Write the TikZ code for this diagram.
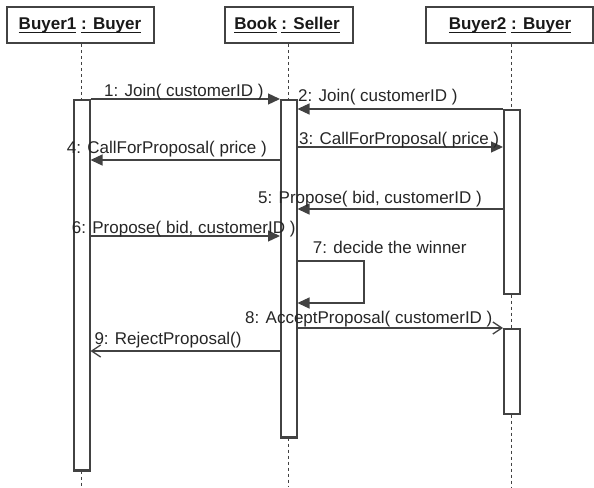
\documentclass[tikz,border=0pt]{standalone}
\usepackage{fontspec}
\setmainfont{Liberation Sans}
\usetikzlibrary{arrows.meta}
\definecolor{ink}{HTML}{424242}
\newcommand\ulbox[1]{\setbox0\hbox{#1}\rlap{\rule[-3.6pt]{\wd0}{1.4pt}}\box0\relax}
\tikzset{
  head/.style={draw=ink, line width=1.6pt, fill=white, minimum height=36pt, inner sep=0pt},
  headtext/.style={font=\fontsize{17}{20}\selectfont\bfseries, text=black!90, inner sep=0pt, anchor=base},
  bar/.style={draw=ink, line width=1.5pt, fill=white, minimum width=16pt, inner sep=0pt, anchor=north west},
  barfoot/.style={draw=ink, line width=2.8pt},
  life/.style={draw=ink, line width=1.3pt, dash pattern=on 3.5pt off 2.5pt},
  msg/.style={draw=ink, line width=1.3pt, -{Triangle[length=12pt,width=11pt]}},
  reply/.style={draw=ink, line width=1.3pt, -{Straight Barb[length=9pt,width=12pt]}},
  lbl/.style={font=\fontsize{17}{19}\selectfont, text=black!85, inner sep=0pt, anchor=base west},
}
\begin{document}
\begin{tikzpicture}[x=1pt, y=-1pt]
\path[use as bounding box] (0,0) rectangle (594,487);
\coordinate (bottom) at (0,487);

% object heads
\node[head, minimum width=147pt] (h1) at (80.5,25) {};
\node[head, minimum width=128pt] (hs) at (289,25) {};
\node[head, minimum width=167pt] (h2) at (509.5,25) {};
\node[headtext] (t1) at (80,29.5) {\ulbox{Buyer1} \ulbox{: Buyer}};
\node[headtext] (ts) at (287,29.5) {\ulbox{Book} \ulbox{: Seller}};
\node[headtext] (t2) at (510,29.5) {\ulbox{Buyer2} \ulbox{: Buyer}};

% activation bars
\node[bar, minimum height=370pt] (b1) at (73,99) {};
\node[bar, minimum height=337pt] (s) at (280,99) {};
\node[bar, minimum height=184pt] (b2a) at (503,109) {};
\node[bar, minimum height=85pt] (b2b) at (503,328) {};
\draw[barfoot] (b1.south west) -- (b1.south east);
\draw[barfoot] (s.south west) -- (s.south east);

% lifelines
\draw[life] (b1.north |- h1.south) -- (b1.north);
\draw[life] (b1.south) -- (b1.south |- bottom);
\draw[life] (s.north |- hs.south) -- (s.north);
\draw[life] (s.south) -- (s.south |- bottom);
\draw[life] (b2a.north |- h2.south) -- (b2a.north);
\draw[life] (b2a.south) -- (b2b.north);
\draw[life] (b2b.south) -- (b2b.south |- bottom);

% message rows
\coordinate (y1) at (0,99);
\coordinate (y2) at (0,109);
\coordinate (y3) at (0,147);
\coordinate (y4) at (0,160);
\coordinate (y5) at (0,209);
\coordinate (y6) at (0,236);
\coordinate (y7a) at (0,261);
\coordinate (y7b) at (0,303);
\coordinate (y8) at (0,328);
\coordinate (y9) at (0,351);
\coordinate (loop) at (364,0);

\draw[msg] (b1.east |- y1) -- (s.west |- y1);
\draw[msg] (b2a.west |- y2) -- (s.east |- y2);
\draw[msg] (s.east |- y3) -- (b2a.west |- y3);
\draw[msg] (s.west |- y4) -- (b1.east |- y4);
\draw[msg] (b2a.west |- y5) -- (s.east |- y5);
\draw[msg] (b1.east |- y6) -- (s.west |- y6);
\draw[msg] (s.east |- y7a) -- (loop |- y7a) -- (loop |- y7b) -- (s.east |- y7b);
\draw[reply] (s.east |- y8) -- (b2b.west |- y8);
\draw[reply] (s.west |- y9) -- (b1.east |- y9);

% message labels
\node[lbl] (l1) at (104,96.5) {1: Join( customerID )};
\node[lbl] (l2) at (298,101.5) {2: Join( customerID )};
\node[lbl] (l3) at (299,144) {3: CallForProposal( price )};
\node[lbl] (l4) at (66.7,153) {4: CallForProposal( price )};
\node[lbl] (l5) at (258,203) {5: Propose( bid, customerID )};
\node[lbl] (l6) at (71.7,233) {6: Propose( bid, customerID )};
\node[lbl] (l7) at (312.7,253) {7: decide the winner};
\node[lbl] (l8) at (245,323) {8: AcceptProposal( customerID )};
\node[lbl] (l9) at (94.3,344) {9: RejectProposal()};
\end{tikzpicture}
\end{document}
